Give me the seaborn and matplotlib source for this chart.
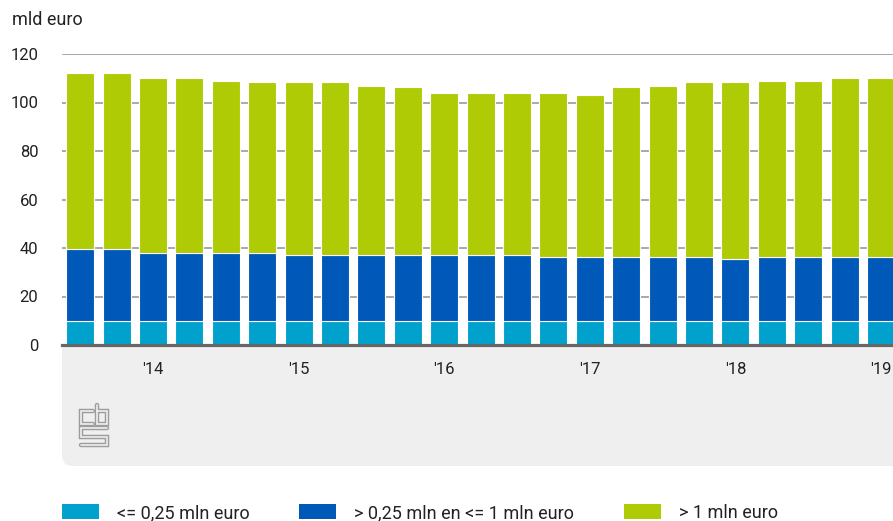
import pandas as pd
import matplotlib.pyplot as plt
import seaborn as sns
from matplotlib.patches import FancyBboxPatch, Patch
from matplotlib.lines import Line2D

# DATA (mld euro per kwartaal)
quarters = ["2013 K3", "2013 K4",
            "2014 K1", "2014 K2", "2014 K3", "2014 K4",
            "2015 K1", "2015 K2", "2015 K3", "2015 K4",
            "2016 K1", "2016 K2", "2016 K3", "2016 K4",
            "2017 K1", "2017 K2", "2017 K3", "2017 K4",
            "2018 K1", "2018 K2", "2018 K3", "2018 K4",
            "2019 K1"]
small = [9.7, 9.7, 9.7, 9.7, 9.7, 9.7, 9.7, 9.7, 9.7, 9.7, 9.7, 9.7,
         9.7, 9.7, 9.7, 9.7, 9.7, 9.7, 9.7, 9.7, 9.7, 9.7, 9.7]
mid = [29.8, 29.8, 28.2, 28.2, 28.2, 28.2, 27.5, 27.5, 27.5, 27.5, 27.5, 27.5,
       27.5, 26.5, 26.5, 26.5, 26.5, 26.5, 25.8, 26.5, 26.5, 26.5, 26.5]
large = [72.7, 72.7, 72.2, 72.2, 71.0, 70.4, 71.1, 71.1, 69.7, 69.2, 66.6, 66.6,
         66.6, 67.6, 66.9, 70.2, 70.7, 72.1, 72.8, 72.7, 72.7, 73.9, 73.9]
series_labels = ["<= 0,25 mln euro", "> 0,25 mln en <= 1 mln euro", "> 1 mln euro"]
colors = ["#00a1cd", "#0058b8", "#afcb05"]

df = pd.DataFrame({"kwartaal": quarters, "small": small, "mid": mid, "large": large})

W, H = 893, 521
sns.set_style("white")
plt.rcParams['font.family'] = ['Roboto', 'DejaVu Sans']
fig = plt.figure(figsize=(W / 100, H / 100), dpi=100)


def fx(px):
    return px / W


def fy(py):
    return 1 - py / H


ax = fig.add_axes([fx(62), fy(345), 1 - fx(62), fy(54) - fy(345)])
ax.set_zorder(1)

# stacked bars
bottom = [0.0] * len(quarters)
for col, c in zip(["small", "mid", "large"], colors):
    sns.barplot(data=df, x="kwartaal", y=col, bottom=bottom, color=c,
                saturation=1, width=0.77, edgecolor="white", linewidth=0.8,
                ax=ax, zorder=2)
    bottom = [b + v for b, v in zip(bottom, df[col])]

ax.set_ylim(0, 120)
ax.set_xlim(-0.5, len(quarters) - 0.67)
ax.set_yticks([0, 20, 40, 60, 80, 100, 120])
ax.yaxis.grid(True, color="#999999", linewidth=1.2, zorder=0)
ax.set_axisbelow(True)

tick_pos = [i for i, q in enumerate(quarters) if q.endswith("K1")]
tick_lab = ["'" + quarters[i][2:4] for i in tick_pos]
ax.set_xticks(tick_pos)
ax.set_xticklabels(tick_lab)
ax.tick_params(axis="x", length=0, pad=12, labelsize=12, colors="#222222")
ax.tick_params(axis="y", length=0, pad=17, labelsize=12, colors="#222222")
for lab in ax.get_yticklabels():
    lab.set_horizontalalignment("right")
ax.set_xlabel("")
ax.set_ylabel("")
for s in ["top", "right", "left"]:
    ax.spines[s].set_visible(False)
ax.spines["bottom"].set_color("#666666")
ax.spines["bottom"].set_linewidth(2.3)

# grey panel under the axis
panel = FancyBboxPatch((fx(62), fy(466)), 1.2, fy(320) - fy(466),
                       boxstyle="round,pad=0,rounding_size=0.012",
                       transform=fig.transFigure, facecolor="#efefef",
                       edgecolor="none", zorder=-1, mutation_aspect=W / H)
fig.patches.append(panel)
ax.patch.set_facecolor("white")

# simple cbs logo
logo = [
    [(93, 411), (81, 411), (81, 424), (93, 424)],
    [(97, 405), (97, 424), (107, 424), (107, 411), (97, 411)],
    [(107, 428), (81, 428), (81, 436.5), (107, 436.5), (107, 445), (81, 445)],
]
for pts in logo:
    xs = [fx(p[0]) for p in pts]
    ys = [fy(p[1]) for p in pts]
    fig.lines.append(Line2D(xs, ys, transform=fig.transFigure, color="#9c9c9c",
                            linewidth=3.2, solid_joinstyle="miter", zorder=2))
    fig.lines.append(Line2D(xs, ys, transform=fig.transFigure, color="#efefef",
                            linewidth=1.2, solid_joinstyle="miter", zorder=3))

fig.text(fx(12), fy(20), "mld euro", fontsize=13, color="#222222", va="center")

handles = [Patch(facecolor=c, edgecolor="none") for c in colors]
fig.legend(handles, series_labels, loc="center left",
           bbox_to_anchor=(fx(62), fy(513)), frameon=False, ncol=3,
           fontsize=13, handlelength=2.05, handleheight=0.9,
           handletextpad=1.0, columnspacing=2.75, borderpad=0,
           borderaxespad=0, labelcolor="#222222")

fig.savefig("out.png", dpi=100)
